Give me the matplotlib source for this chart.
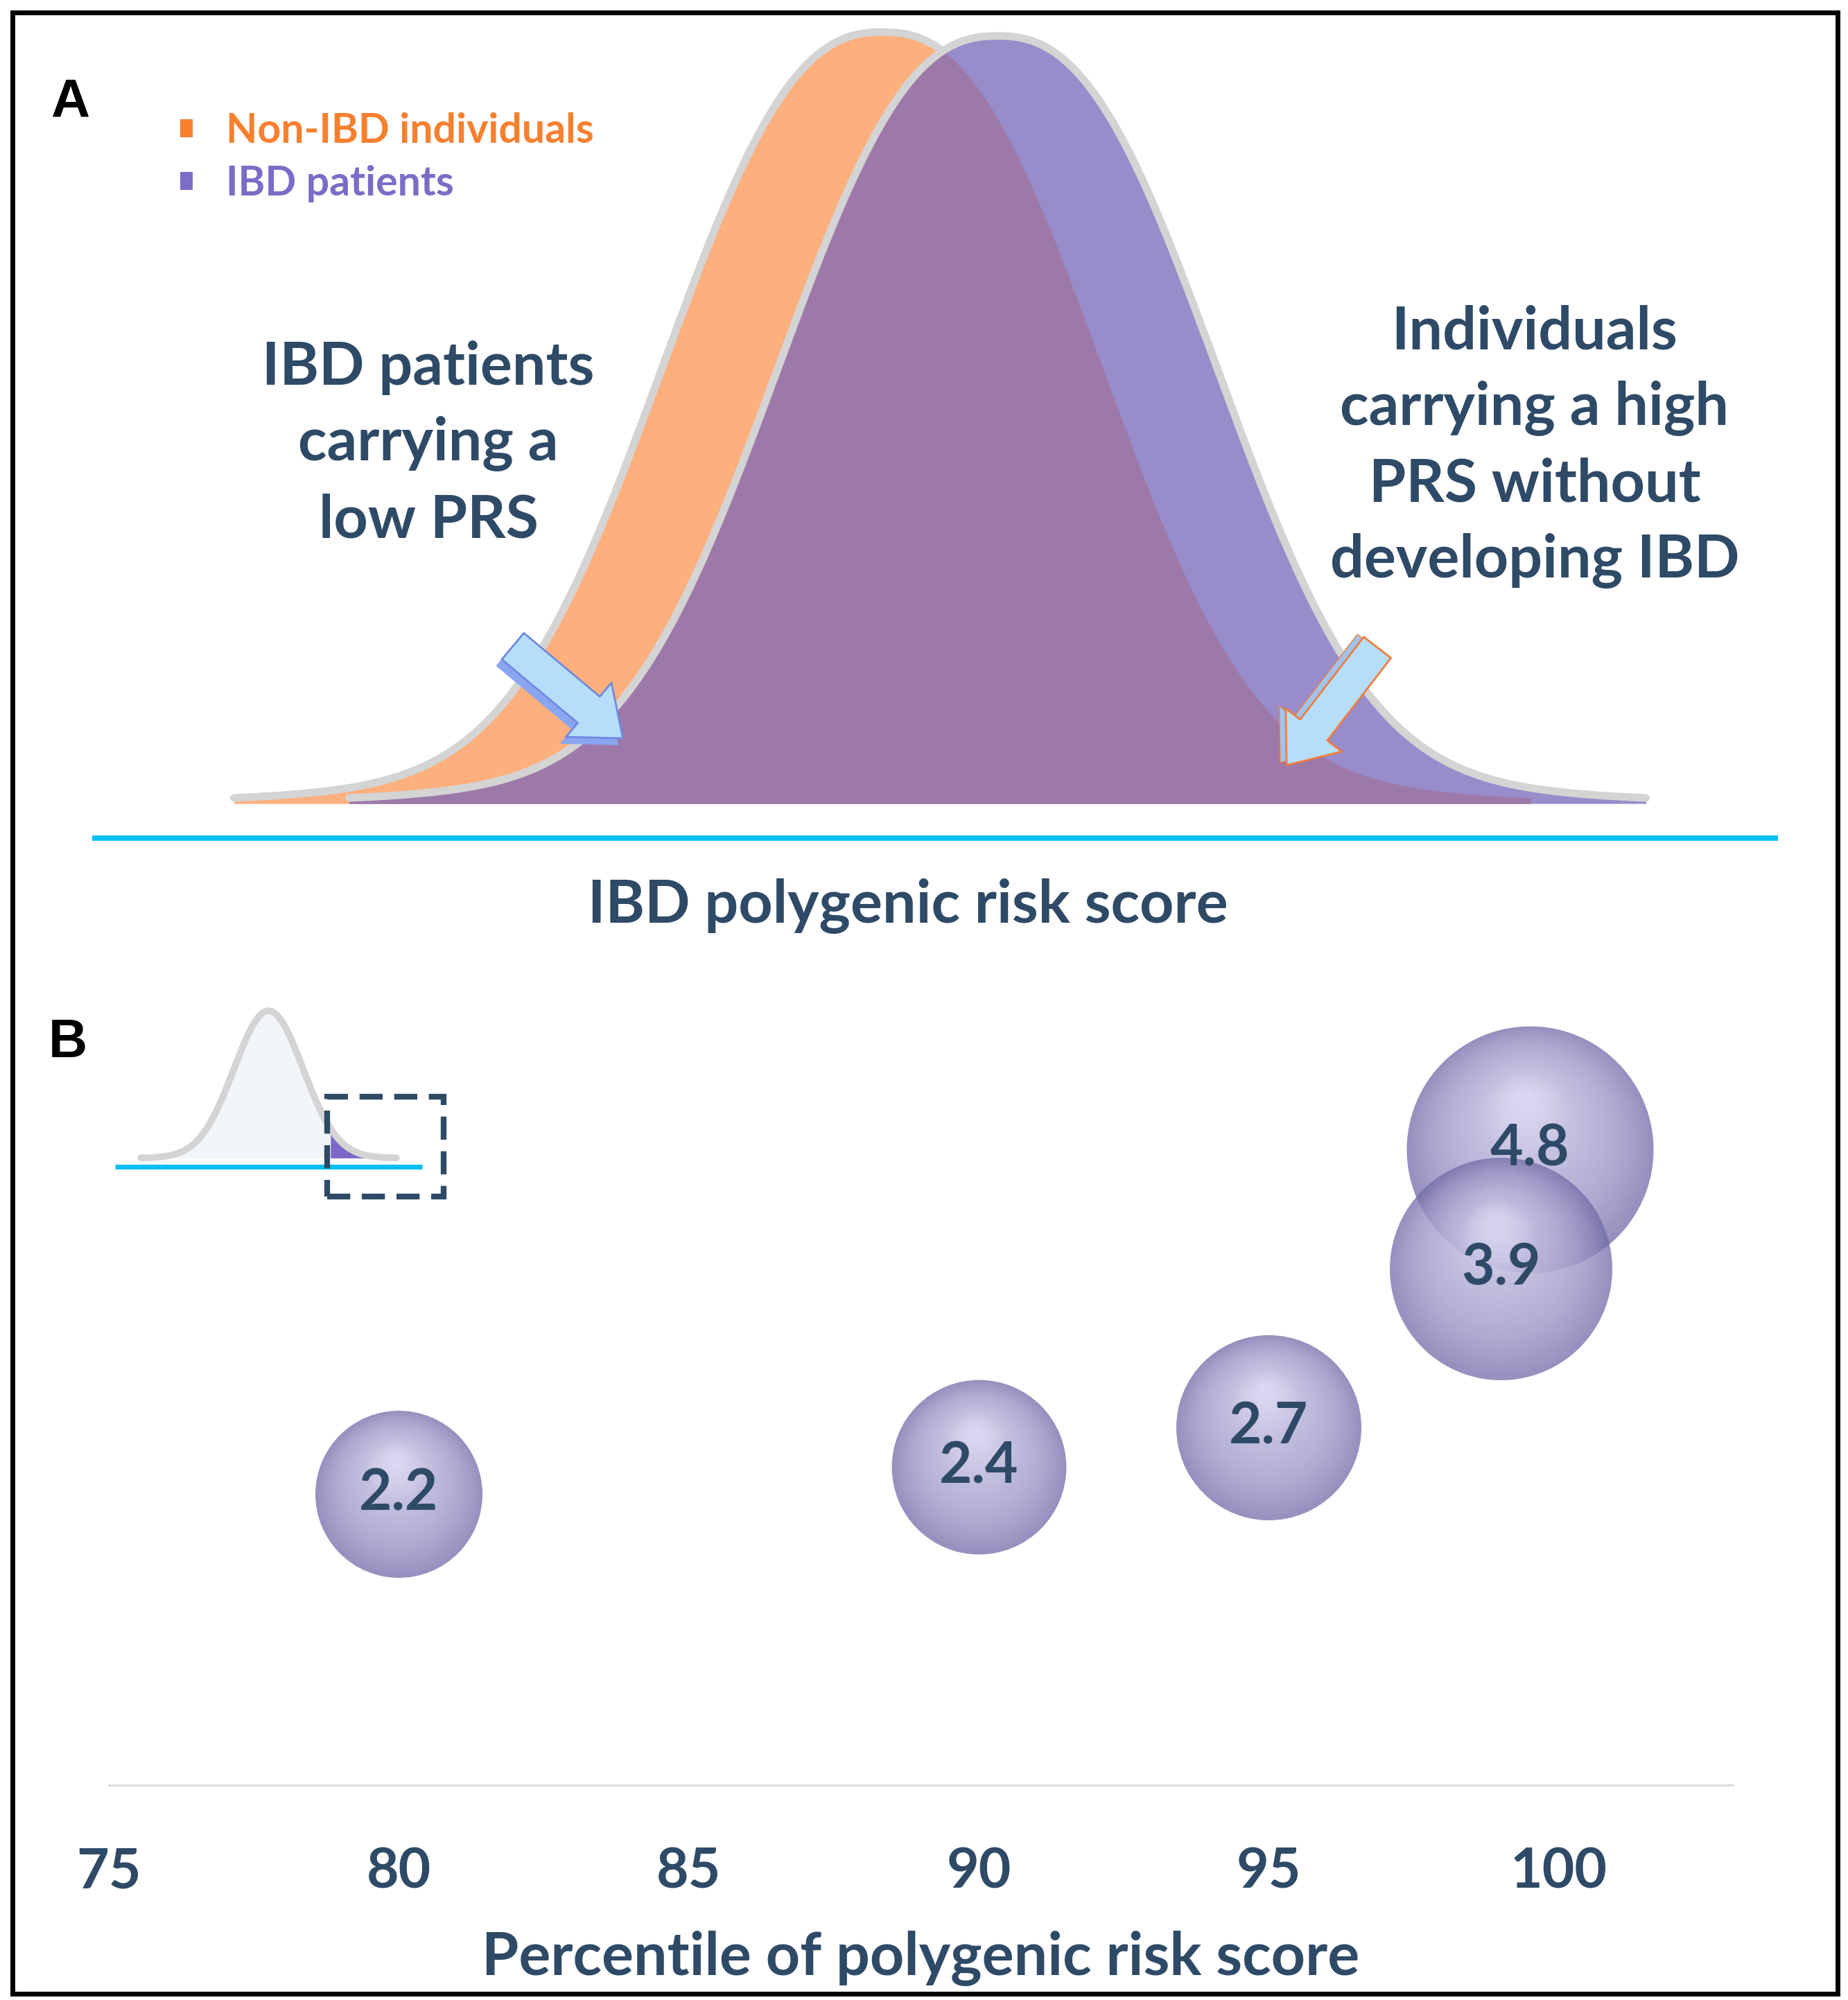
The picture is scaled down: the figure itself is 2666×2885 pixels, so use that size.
import numpy as np
import matplotlib
matplotlib.use("Agg")
import matplotlib.pyplot as plt
from matplotlib.patches import Patch, Rectangle
from matplotlib import transforms

# ---- data ----
groups = ["Non-IBD individuals", "IBD patients"]
group_colors = ["#F7802F", "#7C6CC6"]
prs_means = [0.0, 0.9]           # centres of the two PRS distributions
prs_heights = [1.0, 0.995]
# shape of the schematic distribution curves
shape_a, shape_p, tail_w, tail_sd, span = 2.12, 2.45, 0.08, 2.3, 5.07

percentiles = [80, 90, 95, 99.5, 99]
odds_ratios = [2.2, 2.4, 2.7, 4.8, 3.9]
xticks = [75, 80, 85, 90, 95, 100]

# ---- layout helpers (reference is 1445 x 1563 units) ----
W, H = 1445.0, 1563.0


def fx(x):
    return x / W


def fy(y):
    return 1 - y / H


def bell(x, m, h):
    d = np.abs(x - m)
    body = np.exp(-(d / shape_a) ** shape_p)
    tail = np.exp(-0.5 * (d / tail_sd) ** 2)
    return h * ((1 - tail_w) * body + tail_w * tail)


dark = "#2E4A67"
cyan = "#00BFF3"
grey = "#D4D4D4"
font = ["Lato", "DejaVu Sans"]

fig = plt.figure(figsize=(26.66, 28.85), dpi=100)

# ================= panel A =================
ax_a = fig.add_axes([fx(72), fy(760), fx(1390) - fx(72), fy(10) - fy(760)])
ax_a.set_xlim(-6.18, 7.0)
ax_a.set_ylim(-0.219, 1.025)
ax_a.axis("off")

x_o = np.linspace(prs_means[0] - span, prs_means[0] + span, 600)
y_o = bell(x_o, prs_means[0], prs_heights[0])
x_p = np.linspace(prs_means[1] - span, prs_means[1] + span, 600)
y_p = bell(x_p, prs_means[1], prs_heights[1])

ax_a.fill_between(x_o, 0, y_o, color="#FDAF7D", lw=0, zorder=1)
ax_a.plot(x_o, y_o, color=grey, lw=8, solid_capstyle="round", zorder=2)
ax_a.fill_between(x_p, 0, y_p, color="#988CCB", lw=0, zorder=3)

# overlap of the two groups
x_c = np.linspace(prs_means[1] - span, prs_means[0] + span, 600)
y_c = np.minimum(bell(x_c, prs_means[0], prs_heights[0]),
                 bell(x_c, prs_means[1], prs_heights[1]))
ax_a.fill_between(x_c, 0, y_c, color="#9D79A9", lw=0, zorder=4)
ax_a.plot(x_p, y_p, color=grey, lw=8, solid_capstyle="round", zorder=5)

ax_a.axhline(-0.0448, color=cyan, lw=5.5, zorder=2)

leg = ax_a.legend(handles=[Patch(facecolor=c, edgecolor="none") for c in group_colors],
                  labels=groups, labelcolor=group_colors, loc="upper left",
                  bbox_to_anchor=(fx(125), fy(72)), bbox_transform=fig.transFigure,
                  frameon=False, handlelength=0.31, handleheight=0.31,
                  handletextpad=0.81, labelspacing=0.37, borderpad=0,
                  prop={"family": font, "weight": "bold", "size": 42.5})

# arrows
arrow_style = "simple,head_length=1.1,head_width=1.75,tail_width=0.85"
ax_a.annotate("", xy=(fx(483), fy(582)), xytext=(fx(397), fy(510)),
              xycoords="figure fraction",
              arrowprops=dict(arrowstyle=arrow_style, fc="#8AA6F0", ec="#8AA6F0",
                              mutation_scale=42, shrinkA=0, shrinkB=0), zorder=6)
ax_a.annotate("", xy=(fx(487), fy(577)), xytext=(fx(401), fy(505)),
              xycoords="figure fraction",
              arrowprops=dict(arrowstyle=arrow_style, fc="#B6DEFB", ec="#7088E0", lw=2,
                              mutation_scale=42, shrinkA=0, shrinkB=0), zorder=7)
ax_a.annotate("", xy=(fx(1001), fy(596)), xytext=(fx(1072), fy(504)),
              xycoords="figure fraction",
              arrowprops=dict(arrowstyle=arrow_style, fc="#9FC4F2", ec="#F07D3A",
                              mutation_scale=42, shrinkA=0, shrinkB=0), zorder=6)
ax_a.annotate("", xy=(fx(1006), fy(598)), xytext=(fx(1077), fy(506)),
              xycoords="figure fraction",
              arrowprops=dict(arrowstyle=arrow_style, fc="#B6DEFB", ec="#F07D3A", lw=2,
                              mutation_scale=42, shrinkA=0, shrinkB=0), zorder=7)

txt = dict(color=dark, fontsize=62, family=font, weight="bold", ha="center",
           va="center", linespacing=1.48)
fig.text(fx(335), fy(347), "IBD patients\ncarrying a\nlow PRS", **txt)
fig.text(fx(1200), fy(349), "Individuals\ncarrying a high\nPRS without\ndeveloping IBD", **txt)
fig.text(fx(710), fy(708), "IBD polygenic risk score", **txt)

lab = dict(fontsize=56, weight="bold", color="black", family=["Liberation Sans", "DejaVu Sans"],
           ha="center", va="center")
fig.text(fx(55), fy(80), "A", **lab)
fig.text(fx(53), fy(815), "B", **lab)

# ================= panel B bubbles =================
ax_b = fig.add_axes([fx(85), fy(1395), fx(1355) - fx(85), fy(774) - fy(1395)])
ax_b.patch.set_visible(False)
ax_b.set_xlim(75, 103)
ax_b.set_ylim(0, 6)
for s in ["top", "left", "right"]:
    ax_b.spines[s].set_visible(False)
ax_b.spines["bottom"].set_color("#D9D9D9")
ax_b.spines["bottom"].set_linewidth(2)
ax_b.set_yticks([])
ax_b.set_xticks(xticks)
ax_b.tick_params(axis="x", length=0, pad=64, labelsize=58, labelcolor=dark)
for t in ax_b.get_xticklabels():
    t.set_family(font)
    t.set_weight("bold")
ax_b.set_xlabel("Percentile of polygenic risk score", fontsize=62, color=dark,
                family=font, weight="bold", labelpad=34)

bubble_scale = 13690
for i, (p, v) in enumerate(zip(percentiles, odds_ratios)):
    s = bubble_scale * v
    r = np.sqrt(s) / 2
    zb = 10 + i * 3
    ax_b.scatter([p], [v], s=s, color="#736CA8", alpha=0.75, lw=0, zorder=zb)
    # light shading, brightest towards the top
    n = 26
    for k in range(n):
        f = 0.96 - k * 0.035
        dy = (1 - f) * 0.42 * r
        tr = transforms.offset_copy(ax_b.transData, fig=fig, x=-0.05 * (1 - f) * r,
                                    y=dy, units="points")
        a = 0.05 if f > 0.35 else 0.11
        ax_b.scatter([p], [v], s=s * f * f, color="#ECE9FF", alpha=a, lw=0,
                     transform=tr, zorder=zb + 1)

for p, v in zip(percentiles, odds_ratios):
    ax_b.text(p, v, f"{v}", color=dark, fontsize=59, family=font, weight="bold",
              ha="center", va="center", zorder=40)

# ================= panel B inset =================
ax_i = fig.add_axes([fx(90), fy(945), fx(352) - fx(90), fy(770) - fy(945)])
ax_i.set_xlim(-4.444, 5.26)
ax_i.set_ylim(-0.348, 1.174)
ax_i.axis("off")
x_s = np.linspace(-3.7, 3.7, 300)
y_s = np.exp(-0.5 * x_s ** 2)
ax_i.fill_between(x_s, 0, y_s, color="#F2F6FA", lw=0, zorder=1)
tail = x_s >= 1.78
ax_i.fill_between(x_s[tail], 0, y_s[tail], color="#7B68C8", lw=0, zorder=2)
ax_i.plot(x_s, y_s, color=grey, lw=7, solid_capstyle="round", zorder=3)
ax_i.hlines(-0.061, -4.44, 4.44, color=cyan, lw=5, zorder=4)
ax_i.add_patch(Rectangle((1.70, -0.261), 3.37, 0.678, fill=False, ec=dark, lw=6,
                         linestyle=(0, (4, 2)), zorder=5))

# outer frame
fig.patches.append(Rectangle((fx(10), fy(1558)), fx(1437) - fx(10), fy(10) - fy(1558),
                             transform=fig.transFigure, fill=False, ec="black", lw=5,
                             zorder=100))

fig.savefig("out.png", dpi=100, facecolor="white")
